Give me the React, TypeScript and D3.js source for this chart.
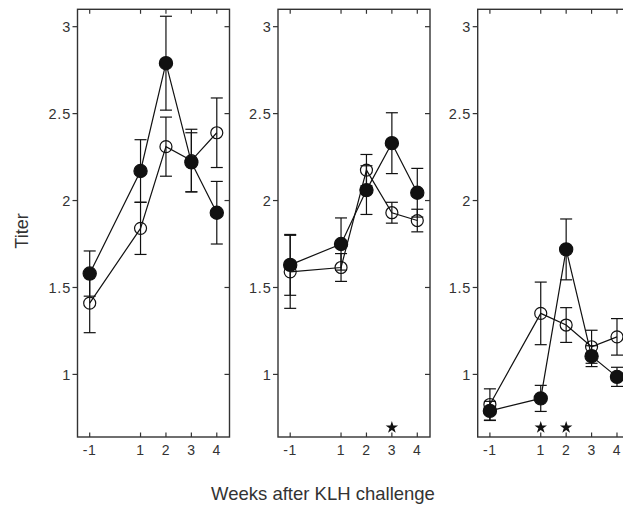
import React from "react";
import * as d3 from "d3";

const weeks = [-1, 1, 2, 3, 4];
const xTicks = [-1, 1, 2, 3, 4];
const yTicks = [1, 1.5, 2, 2.5, 3];

// Panel A
const p1Filled = [1.58, 2.17, 2.79, 2.22, 1.93];
const p1FilledErr = [0.13, 0.18, 0.27, 0.17, 0.18];
const p1Open = [1.41, 1.84, 2.31, 2.23, 2.39];
const p1OpenErr = [0.17, 0.15, 0.17, 0.18, 0.2];
// Panel B
const p2Filled = [1.63, 1.75, 2.06, 2.33, 2.045];
const p2FilledErr = [0.175, 0.15, 0.14, 0.175, 0.14];
const p2Open = [1.59, 1.615, 2.175, 1.93, 1.885];
const p2OpenErr = [0.21, 0.08, 0.09, 0.06, 0.065];
// Panel C
const p3Filled = [0.79, 0.862, 1.719, 1.105, 0.986];
const p3FilledErr = [0.055, 0.075, 0.175, 0.06, 0.055];
const p3Open = [0.827, 1.351, 1.284, 1.159, 1.216];
const p3OpenErr = [0.09, 0.18, 0.1, 0.095, 0.105];

const p1Stars: number[] = [];
const p2Stars = [3];
const p3Stars = [1, 2];

const panels = [
  { filled: p1Filled, filledErr: p1FilledErr, open: p1Open, openErr: p1OpenErr, stars: p1Stars },
  { filled: p2Filled, filledErr: p2FilledErr, open: p2Open, openErr: p2OpenErr, stars: p2Stars },
  { filled: p3Filled, filledErr: p3FilledErr, open: p3Open, openErr: p3OpenErr, stars: p3Stars },
];

const W = 623;
const H = 507;
const top = 9.3;
const bottom = 437;
const panelW = 152;
const panelLefts = [77.5, 278, 477.7];
const axisColor = "#333";
const inkColor = "#111";
const font = "'Liberation Sans', Arial, Helvetica, sans-serif";

const y = d3.scaleLinear().domain([0.64, 3.1]).range([bottom, top]);
const starPath = d3.symbol(d3.symbolStar, 48)() as string;
const line = d3.line<[number, number]>();

function Panel({ idx }: { idx: number }) {
  const p = panels[idx];
  const left = panelLefts[idx];
  const x = d3.scaleLinear().domain([-1.48, 4.5]).range([left, left + panelW]);
  const right = left + panelW;
  const cap = 6;

  const series = [
    { vals: p.open, errs: p.openErr, filled: false },
    { vals: p.filled, errs: p.filledErr, filled: true },
  ];

  return (
    <g>
      <rect x={left} y={top} width={panelW} height={bottom - top} fill="none" stroke={axisColor} strokeWidth={1.4} />
      {xTicks.map((t) => (
        <g key={"xt" + t}>
          <line x1={x(t)} x2={x(t)} y1={bottom} y2={bottom - 4.5} stroke={axisColor} strokeWidth={1.2} />
          <line x1={x(t)} x2={x(t)} y1={top} y2={top + 4.5} stroke={axisColor} strokeWidth={1.2} />
          <text x={x(t)} y={454.5} textAnchor="middle" fontFamily={font} fontSize={14} letterSpacing={0.6} fill={axisColor}>
            {t}
          </text>
        </g>
      ))}
      {yTicks.map((t) => (
        <g key={"yt" + t}>
          <line x1={left} x2={left - 5} y1={y(t)} y2={y(t)} stroke={axisColor} strokeWidth={1.2} />
          <line x1={right} x2={right - 5} y1={y(t)} y2={y(t)} stroke={axisColor} strokeWidth={1.2} />
          <text x={left - 6.5} y={y(t)} dy="0.36em" textAnchor="end" fontFamily={font} fontSize={14.5} letterSpacing={0.8} fill={axisColor}>
            {t}
          </text>
        </g>
      ))}
      {series.map((s, si) => (
        <g key={"s" + si}>
          <path
            d={line(weeks.map((w, i) => [x(w), y(s.vals[i])])) as string}
            fill="none"
            stroke={inkColor}
            strokeWidth={1.2}
          />
          {weeks.map((w, i) => {
            const cx = x(w);
            const hi = y(s.vals[i] + s.errs[i]);
            const lo = y(s.vals[i] - s.errs[i]);
            return (
              <g key={"e" + i} stroke={inkColor} strokeWidth={1.2}>
                <line x1={cx} x2={cx} y1={hi} y2={lo} />
                <line x1={cx - cap} x2={cx + cap} y1={hi} y2={hi} />
                <line x1={cx - cap} x2={cx + cap} y1={lo} y2={lo} />
              </g>
            );
          })}
          {weeks.map((w, i) => (
            <circle
              key={"c" + i}
              cx={x(w)}
              cy={y(s.vals[i])}
              r={s.filled ? 6.6 : 6}
              fill={s.filled ? inkColor : "none"}
              stroke={inkColor}
              strokeWidth={1.2}
            />
          ))}
        </g>
      ))}
      {p.stars.map((w) => (
        <path key={"st" + w} d={starPath} transform={`translate(${x(w)},${y(0.695)})`} fill={inkColor} />
      ))}
    </g>
  );
}

export default function App() {
  return (
    <svg width={W} height={H} style={{ position: "absolute", left: 0, top: 0, background: "#fff" }}>
      {panels.map((_, i) => (
        <Panel key={i} idx={i} />
      ))}
      <text
        transform="translate(27.5,231) rotate(-90)"
        textAnchor="middle"
        fontFamily={font}
        fontSize={18}
        fill={axisColor}
      >
        Titer
      </text>
      <text x={323} y={500} textAnchor="middle" fontFamily={font} fontSize={18.5} fill={axisColor}>
        Weeks after KLH challenge
      </text>
    </svg>
  );
}
